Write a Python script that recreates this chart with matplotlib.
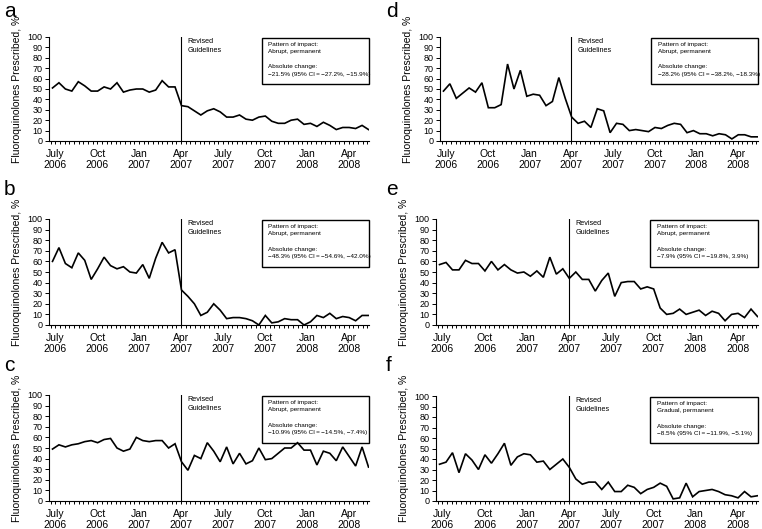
import matplotlib
matplotlib.use("Agg")
import matplotlib.pyplot as plt
import numpy as np
from matplotlib.patches import Rectangle
from matplotlib.ticker import FixedLocator, MultipleLocator

plt.rcParams['font.family'] = ['Liberation Sans', 'DejaVu Sans']

# biweekly observations, months since July 2006
n_points = 50
start_offset = -0.2
step = 12 / 26
x = start_offset + np.arange(n_points) * step

tick_months = [0, 3, 6, 9, 12, 15, 18, 21]
tick_labels = ["July\n2006", "Oct\n2006", "Jan\n2007", "Apr\n2007",
               "July\n2007", "Oct\n2007", "Jan\n2008", "Apr\n2008"]
guideline_month = 9

series_a = [51, 56, 50, 48, 57, 53, 48, 48, 52, 50, 56, 47, 49, 50, 50, 47, 49, 58, 52, 52,
            34, 33, 29, 25, 29, 31, 28, 23, 23, 25, 21, 20, 23, 24, 19, 17, 17, 20, 21, 16,
            17, 14, 18, 15, 11, 13, 13, 12, 15, 11]
series_b = [60, 73, 58, 54, 68, 61, 43, 53, 64, 56, 53, 55, 50, 49, 57, 44, 63, 78, 68, 71,
            33, 27, 20, 9, 12, 20, 14, 6, 7, 7, 6, 4, 0, 9, 2, 3, 6, 5, 5, 0,
            3, 9, 7, 11, 6, 8, 7, 4, 9, 9]
series_c = [49, 53, 51, 53, 54, 56, 57, 55, 58, 59, 50, 47, 49, 60, 57, 56, 57, 57, 50, 54,
            37, 29, 43, 40, 55, 47, 37, 51, 35, 45, 35, 38, 50, 39, 40, 45, 50, 50, 55, 48,
            48, 34, 47, 45, 38, 51, 42, 33, 51, 32]
series_d = [48, 55, 41, 46, 51, 47, 56, 32, 32, 35, 74, 50, 68, 43, 45, 44, 34, 38, 61, 41,
            23, 17, 19, 13, 31, 29, 8, 17, 16, 10, 11, 10, 9, 13, 12, 15, 17, 16, 8, 10,
            7, 7, 5, 7, 6, 2, 6, 6, 4, 4]
series_e = [57, 59, 52, 52, 61, 58, 58, 51, 60, 52, 57, 52, 49, 50, 46, 51, 45, 64, 48, 53,
            44, 50, 43, 43, 32, 42, 49, 27, 40, 41, 41, 34, 36, 34, 16, 10, 11, 15, 10, 12,
            14, 9, 13, 11, 4, 10, 11, 7, 15, 8]
series_f = [35, 37, 46, 27, 45, 39, 30, 44, 36, 45, 55, 34, 42, 45, 44, 37, 38, 30, 35, 40,
            32, 21, 16, 18, 18, 11, 18, 9, 9, 15, 13, 7, 11, 13, 17, 14, 2, 3, 17, 4,
            9, 10, 11, 9, 6, 5, 3, 9, 4, 5]

panel_letters = ["a", "b", "c", "d", "e", "f"]
patterns = ["Abrupt, permanent"] * 5 + ["Gradual, permanent"]
ts = "\u2009"
changes = [
    f"\u221221.5% (95% CI{ts}={ts}\u221227.2%, \u221215.9%)",
    f"\u221248.3% (95% CI{ts}={ts}\u221254.6%, \u221242.0%)",
    f"\u221210.9% (95% CI{ts}={ts}\u221214.5%, \u22127.4%)",
    f"\u221228.2% (95% CI{ts}={ts}\u221238.2%, \u221218.3%)",
    f"\u22127.9% (95% CI{ts}={ts}\u221219.8%, 3.9%)",
    f"\u22128.5% (95% CI{ts}={ts}\u221211.9%, \u22125.1%)",
]
all_series = [series_a, series_b, series_c, series_d, series_e, series_f]

W, H = 762, 529
fig = plt.figure(figsize=(W / 100, H / 100), dpi=100)

# axes boxes in pixels: left, right, top(100), bottom(0)
boxes = [
    (49, 369, 37, 141),
    (49, 369, 219, 325),
    (49, 369, 395, 501),
    (440, 758, 37, 141),
    (436, 758, 219, 325),
    (436, 758, 396, 501),
]
letter_pos = [(4, 2), (4, 180), (4, 356), (386, 2), (386, 180), (386, 356)]

for k in range(6):
    l, r, t, b = boxes[k]
    ax = fig.add_axes([l / W, 1 - b / H, (r - l) / W, (b - t) / H])
    ax.plot(x, all_series[k], color='black', lw=1.2, solid_joinstyle='miter')
    ax.set_xlim(-0.45, 22.45)
    ax.set_ylim(0, 100)
    for s in ['top', 'right']:
        ax.spines[s].set_visible(False)
    ax.spines['left'].set_linewidth(0.8)
    ax.spines['bottom'].set_linewidth(0.8)
    ax.set_yticks(np.arange(0, 101, 10))
    ax.tick_params(axis='y', labelsize=6.5, length=3, width=0.7, pad=1.5)
    ax.xaxis.set_major_locator(FixedLocator(tick_months))
    ax.set_xticklabels(tick_labels)
    ax.xaxis.set_minor_locator(MultipleLocator(1 / 3))
    ax.tick_params(axis='x', which='major', labelsize=7.5, length=2.5, width=0.7, pad=3)
    ax.tick_params(axis='x', which='minor', length=2.5, width=0.7)
    for lab in ax.get_xticklabels():
        lab.set_linespacing(1.2)
    ax.set_ylabel("Fluoroquinolones Prescribed, %", fontsize=7.5, labelpad=4)
    ax.axvline(guideline_month, ymin=0, ymax=1, color='black', lw=0.8)
    ax.text(guideline_month + 0.45, 99, "Revised\nGuidelines", fontsize=5.2,
            va='top', ha='left', linespacing=1.3)
    ax.add_patch(Rectangle((0.665, 0.55), 0.335, 0.445, transform=ax.transAxes,
                           fill=False, ec='black', lw=1.0, clip_on=False))
    ax.text(0.685, 0.955, "Pattern of impact:\n" + patterns[k] + "\n\nAbsolute change:\n" + changes[k],
            transform=ax.transAxes, fontsize=4.6, va='top', ha='left', linespacing=1.65)
    lx, ly = letter_pos[k]
    fig.text(lx / W, 1 - ly / H, panel_letters[k], fontsize=15, va='top', ha='left')

fig.savefig("out.png", dpi=100)
